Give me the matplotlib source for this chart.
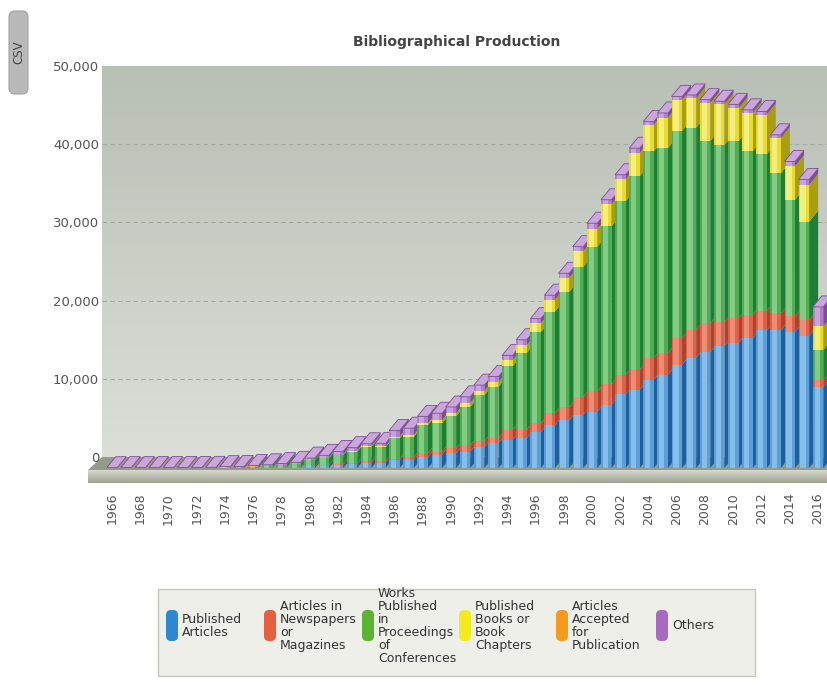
import numpy as np
import matplotlib.pyplot as plt
from matplotlib.patches import Polygon, Rectangle, FancyBboxPatch

# data (counts per year)
years = list(range(1966, 2017))

published_articles = [0, 0, 0, 0, 0, 0, 0,
                      10, 20, 30, 60, 80, 100, 120,
                      200, 300, 400, 500, 600, 650, 1000, 1000, 1400, 1700,
                      1900, 2100, 2700, 3200, 3600, 3800, 4600, 5500, 6100, 6800,
                      7200, 8100, 9400, 10000, 11300, 11900, 13200, 14100, 14800, 15600,
                      16000, 16600, 17600, 17600, 17400, 16900, 10400]
newspapers = [0, 0, 0, 0, 0, 0, 0,
              0, 10, 10, 20, 30, 40, 50,
              80, 120, 150, 200, 300, 300, 200, 400, 500, 400,
              600, 800, 700, 600, 1300, 1100, 1100, 1500, 1700, 2300,
              2600, 2600, 2500, 2600, 2800, 2800, 3400, 3600, 3700, 3100,
              3200, 3000, 2500, 2200, 2000, 2000, 800]
proceedings = [0, 0, 0, 0, 0, 0, 0,
               10, 20, 40, 100, 150, 250, 350,
               700, 850, 1100, 1400, 1800, 1700, 2600, 2600, 3600, 3600,
               4100, 4900, 5900, 6600, 8100, 9800, 11700, 13000, 14700, 16600,
               18500, 20200, 22200, 24700, 26400, 26200, 26500, 25800, 23300, 22600,
               22600, 20900, 20000, 17900, 14900, 12600, 3900]
books = [0, 0, 0, 0, 0, 0, 0,
         0, 0, 0, 10, 10, 20, 30,
         40, 50, 70, 100, 100, 100, 200, 200, 200, 400,
         400, 500, 500, 600, 800, 1000, 1100, 1500, 1800, 2000,
         2300, 2800, 2800, 3000, 3400, 3900, 4000, 3800, 4900, 5200,
         4200, 4900, 5100, 4500, 4300, 4700, 3000]
accepted = [0, 0, 0, 0, 0, 0, 0,
            0, 40, 30, 10, 0, 0, 0,
            0, 0, 0, 0, 0, 0, 0, 0, 0, 0,
            0, 0, 0, 0, 0, 0, 0, 0, 0, 0,
            0, 0, 0, 0, 0, 0, 0, 0, 0, 0,
            0, 0, 0, 0, 0, 0, 0]
others = [40, 50, 50, 50, 50, 60, 60,
          60, 80, 90, 120, 140, 150, 180,
          250, 300, 400, 400, 300, 400, 800, 900, 900, 900,
          800, 800, 800, 700, 600, 700, 600, 600, 600, 600,
          700, 600, 600, 600, 400, 600, 400, 400, 400, 400,
          500, 400, 400, 400, 600, 700, 2500]

series = [published_articles, newspapers, proceedings, books, accepted, others]
series_names = ["Published\nArticles",
                "Articles in\nNewspapers\nor\nMagazines",
                "Works\nPublished\nin\nProceedings\nof\nConferences",
                "Published\nBooks or\nBook\nChapters",
                "Articles\nAccepted\nfor\nPublication",
                "Others"]

front_colors = ["#5a9fd9", "#df6248", "#4fae52", "#e8dc30", "#f29c28", "#b07fc8"]
light_colors = ["#86bde9", "#ee8d76", "#86cb85", "#f4ee80", "#f7bd6c", "#c9a4dc"]
side_colors = ["#1f5f9c", "#a9442f", "#1f7d36", "#aa9d14", "#b06a10", "#7b4f92"]
top_colors = ["#8fc2ea", "#f09a85", "#92d492", "#f6f08a", "#f7c070", "#caa6dd"]
legend_colors = ["#2e87d1", "#e5603f", "#5bb233", "#f4ea1d", "#f49a1d", "#a66bbf"]

W, H = 828, 685
fig = plt.figure(figsize=(W / 100, H / 100), dpi=100)
fig.patch.set_facecolor("white")

# main axes : pixels x 88..828, y 66..490
ax = fig.add_axes([88 / W, 1 - 490 / H, (828 - 88) / W, (490 - 66) / H])
px_x = 14.12                 # px per year
px_y = (457 - 66) / 50000    # px per count
x0 = (88 - 112) / px_x
x1 = (828 - 112) / px_x
y0 = -(490 - 457) / px_y
for s in ax.spines.values():
    s.set_visible(False)

DX, DY = 9 / px_x, 11 / px_y          # bar depth
FDX, FDY = 14 / px_x, 13 / px_y       # floor depth
FT = 13 / px_y                        # floor thickness
wall_left = (102 - 112) / px_x
w = 10.5 / px_x

# back wall gradient (darker on top)
grad = np.linspace(0, 1, 200)[:, None]
top_c = np.array([184, 191, 181]) / 255
bot_c = np.array([220, 223, 216]) / 255
img = top_c[None, None, :] * (1 - grad[..., None]) + bot_c[None, None, :] * grad[..., None]
img = np.repeat(img, 2, axis=1)
ax.imshow(img, extent=[wall_left, x1 + 1, 0, 50000], aspect="auto", zorder=0,
          origin="upper")

ax.hlines([10000, 20000, 30000, 40000], wall_left, x1 + 1, colors="#a3ab9f",
          linestyles=(0, (4, 3)), lw=0.8, zorder=1)

# floor
ax.add_patch(Polygon([(wall_left, 0), (x1 + 2, 0), (x1 + 2 - FDX, -FDY),
                      (wall_left - FDX, -FDY)], closed=True,
                     fc="#959b8b", ec="none", zorder=1.5))
fgrad = np.linspace(0, 1, 50)[:, None]
fa = np.array([214, 216, 204]) / 255
fb = np.array([160, 163, 146]) / 255
fimg = fa[None, None, :] * (1 - fgrad[..., None]) + fb[None, None, :] * fgrad[..., None]
fimg = np.repeat(fimg, 2, axis=1)
ax.imshow(fimg, extent=[wall_left - FDX, x1 + 1, -FDY - FT, -FDY], aspect="auto",
          zorder=1.6, origin="upper")

# 3d stacked columns, drawn left to right
for k in range(len(years)):
    z = 3 + k * 0.01
    bottom = -DY
    last = None
    for j, vals in enumerate(series):
        v = vals[k]
        if v <= 0:
            continue
        top = bottom + v
        xl = k - w / 2
        xr = k + w / 2
        ax.add_patch(Polygon([(xr, bottom), (xr + DX, bottom + DY), (xr + DX, top + DY),
                              (xr, top)], closed=True, fc=side_colors[j], ec="none",
                             zorder=z))
        ax.bar(k, v, width=w, bottom=bottom, color=front_colors[j], lw=0,
               zorder=z + 0.004)
        # highlight band on the front face
        ax.bar(xl + 0.42 * w, v, width=0.5 * w, bottom=bottom, color=light_colors[j],
               lw=0, zorder=z + 0.005)
        bottom = top
        last = j
    if last is not None:
        xl = k - w / 2
        xr = k + w / 2
        ax.add_patch(Polygon([(xl, bottom), (xr, bottom), (xr + DX, bottom + DY),
                              (xl + DX, bottom + DY)], closed=True,
                             fc=top_colors[last], ec=side_colors[last], lw=0.6,
                             zorder=z + 0.007))

ax.set_xlim(x0, x1)
ax.set_ylim(y0, 50000)
ax.set_yticks(range(0, 50001, 10000))
ax.set_yticklabels([f"{v:,}" for v in range(0, 50001, 10000)])
ax.tick_params(axis="y", length=0, pad=-8, labelsize=9.5, labelcolor="#555555")
ax.set_xticks(range(0, len(years), 2))
ax.set_xticklabels([str(y) for y in years[::2]], rotation=90)
ax.tick_params(axis="x", length=0, pad=2, labelsize=9, labelcolor="#555555")

fig.text(457 / W, 1 - 42 / H, "Bibliographical Production", ha="center",
         va="center", fontsize=10, fontweight="bold", color="#444444")

# CSV tab
tab = fig.add_axes([8 / W, 1 - 95 / H, 21 / W, 85 / H])
tab.set_xlim(0, 21)
tab.set_ylim(0, 85)
tab.axis("off")
tab.add_patch(FancyBboxPatch((1, 1), 19, 83, boxstyle="round,pad=0,rounding_size=6",
                             fc="#b9b9b9", ec="#a0a0a0", lw=0.8))
tab.text(10.5, 42.5, "CSV", rotation=90, ha="center", va="center", fontsize=8.5,
         color="#444444")

# legend
leg = fig.add_axes([150 / W, 1 - 685 / H, 620 / W, 110 / H])
leg.set_xlim(150, 770)
leg.set_ylim(685, 575)
leg.axis("off")
leg.add_patch(Rectangle((158, 589), 597, 87, fc="#efefea", ec="#c6c6bd", lw=1))
pill_x = [166, 264, 362, 459, 556, 656]
for px, name, col in zip(pill_x, series_names, legend_colors):
    leg.add_patch(FancyBboxPatch((px, 610), 12, 31, boxstyle="round,pad=0,rounding_size=5",
                                 fc=col, ec="none"))
    leg.text(px + 16, 625.5, name, ha="left", va="center", fontsize=9,
             linespacing=1.0, color="#333333", clip_on=False)

fig.savefig("out.png", dpi=100)
